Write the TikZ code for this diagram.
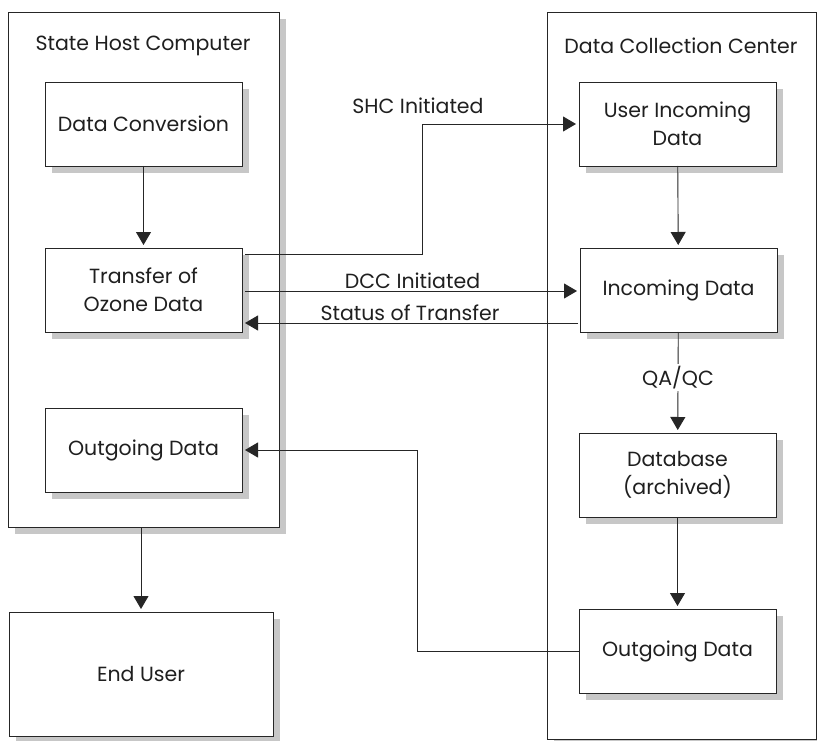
\documentclass[tikz,border=0pt]{standalone}
\usepackage{fontspec}
\setmainfont{Poppins}
\usetikzlibrary{arrows.meta,shadows,calc}
\begin{document}
\begin{tikzpicture}[x=1pt,y=-1pt,
  font=\fontsize{20.5}{28}\selectfont,
  every node/.style={text=black!88},
  shad/.style={drop shadow={shadow xshift=7pt,shadow yshift=-7pt,fill=black!22,opacity=1}},
  box/.style={draw=black!85,line width=0.9pt,fill=white,inner sep=0pt,outer sep=0pt,
     anchor=north west,align=center,minimum width=197pt,minimum height=84pt,shad},
  container/.style={draw=black!85,line width=0.9pt,fill=white,inner sep=0pt,outer sep=0pt,
     anchor=north west,shad},
  lbl/.style={inner sep=1pt},
  conn/.style={draw=black!85,line width=0.9pt},
  arr/.style={conn,-{Triangle[length=13pt,width=15pt]},shorten >=3pt}
]
\useasboundingbox (0,0) rectangle (817,741);
% containers
\node[container,minimum width=271pt,minimum height=515pt] (SHC) at (8,12) {};
\node[container,minimum width=269pt,minimum height=727pt] (DCC) at (547,12) {};
\node[lbl] (SHCt) at (143,46) {State Host Computer};
\node[lbl] (DCCt) at (681,46) {Data Collection Center};
% left boxes
\node[box] (DC) at (45,82) {Data Conversion};
\node[box] (TR) at (45,248) {Transfer of\\Ozone Data};
\node[box] (OL) at (45,408) {Outgoing Data};
\node[box,minimum width=264pt,minimum height=124pt] (EU) at (9,612) {End User};
% right boxes
\node[box] (UI) at (579,82) {User Incoming\\Data};
\node[box] (IN) at (580,248) {Incoming Data};
\node[box] (DB) at (579,433) {Database\\(archived)};
\node[box] (OR) at (579,609) {Outgoing Data};
% vertical arrows
\draw[arr] (DC) -- (TR);
\draw[arr] (SHC.south -| EU.north) -- (EU);
\draw[arr] (UI) -- (IN);
\draw[arr] (IN) -- node[fill=white,inner sep=2pt,pos=0.45]{QA/QC} (DB);
\draw[arr] (DB) -- (OR);
% SHC initiated
\coordinate (s1) at (245,254);
\coordinate (s2) at (422,124);
\draw[arr] (s1) -| (s2) -- (UI.west |- s2);
\node[lbl] (SHCi) at (418,106) {SHC Initiated};
% DCC initiated
\coordinate (d1) at (245,291);
\draw[arr] (d1) -- (IN.west |- d1) node[lbl,midway,above=1pt] (DCCi) {DCC Initiated};
% Status of transfer
\coordinate (t1) at (578,323);
\draw[arr] (t1) -- (TR.east |- t1) node[lbl,midway,above=1pt] (ST) {Status of Transfer};
% outgoing
\coordinate (o1) at (417,450);
\draw[arr] (OR.west) -| (o1) -- (OL.east |- o1);
\end{tikzpicture}
\end{document}
